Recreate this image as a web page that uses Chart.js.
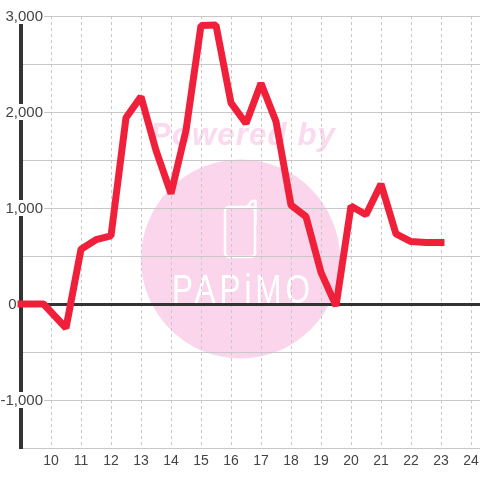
<!DOCTYPE html>
<html>
<head>
<meta charset="utf-8">
<style>
    html, body { margin: 0; padding: 0; background: #fff; }
    #chartBox { width: 480px; height: 480px; }
</style>
<script src="https://cdn.jsdelivr.net/npm/chart.js@4"></script>
</head>
<body>
<div id="chartBox"><canvas id="chartCanvas" width="480" height="480"></canvas></div>
<script>
// Hour of day and value
const hours = [9, 9.75, 10.5, 11, 11.5, 12, 12.5, 13, 13.5, 14, 14.5, 15, 15.5, 16, 16.5, 17, 17.5, 18, 18.5, 19, 19.5, 20, 20.5, 21, 21.5, 22, 22.5, 23];
const values = [0, 0, -250, 570, 670, 710, 1940, 2160, 1600, 1150, 1810, 2900, 2905, 2095, 1880, 2300, 1900, 1030, 910, 330, -20, 1020, 930, 1250, 730, 650, 640, 640];

// Tick positions
const hourTicks = [10, 11, 12, 13, 14, 15, 16, 17, 18, 19, 20, 21, 22, 23, 24];
const valueTicks = [-1500, -1000, -500, 0, 500, 1000, 1500, 2000, 2500, 3000];
const labelledTicks = [-1000, 0, 1000, 2000, 3000];

const points = hours.map((h, i) => ({ x: h, y: values[i] }));
const labelFont = '15px "Liberation Sans"';

// Pink logo sits under the grid lines
const watermark = {
    id: 'watermark',
    beforeDraw(c) {
        const ctx = c.ctx;
        ctx.save();
        ctx.fillStyle = '#fbd5ec';
        ctx.beginPath();
        ctx.arc(240.5, 259, 99.5, 0, Math.PI * 2);
        ctx.fill();

        ctx.fillStyle = '#fbd9ee';
        ctx.font = 'italic bold 31px "Liberation Sans"';
        ctx.textBaseline = 'alphabetic';
        ctx.letterSpacing = '1.2px';
        ctx.fillText('Powered by', 150, 145);

        // phone outline
        ctx.strokeStyle = '#ffffff';
        ctx.lineWidth = 2.5;
        ctx.beginPath();
        ctx.roundRect(225, 207, 30, 50, 4);
        ctx.moveTo(247, 207);
        ctx.lineTo(252, 201);
        ctx.lineTo(255.5, 201);
        ctx.lineTo(255.5, 225);
        ctx.stroke();

        // logo name, squeezed to the narrow look of the original lettering
        ctx.fillStyle = '#ffffff';
        ctx.font = '41px "Liberation Sans"';
        ctx.letterSpacing = '5px';
        ctx.translate(172, 303);
        ctx.scale(0.77, 1);
        ctx.fillText('PAPiMO', 0, 0);
        ctx.restore();
    }
};

// Value labels with a white plate, the plate covers the axis and grid
const valueLabels = {
    id: 'valueLabels',
    beforeDatasetsDraw(c) {
        const ctx = c.ctx;
        const scale = c.scales.y;
        ctx.save();
        ctx.font = labelFont;
        ctx.textBaseline = 'middle';
        labelledTicks.forEach(v => {
            const text = v.toLocaleString('en-US');
            const w = ctx.measureText(text).width;
            const y = scale.getPixelForValue(v);
            const right = v === 0 ? 16.5 : 43;
            ctx.fillStyle = '#ffffff';
            ctx.fillRect(right - w - 1, y - 8, w + 2, 16);
            ctx.fillStyle = '#444444';
            ctx.textAlign = 'right';
            ctx.fillText(text, right, y + 1);
        });
        ctx.restore();
    }
};

new Chart(document.getElementById('chartCanvas'), {
    type: 'line',
    data: {
        datasets: [{
            data: points,
            borderColor: '#f1203a',
            borderWidth: 7,
            borderCapStyle: 'square',
            borderJoinStyle: 'bevel',
            pointRadius: 0,
            tension: 0,
            clip: false
        }]
    },
    options: {
        responsive: false,
        animation: false,
        layout: { padding: { top: 16 } },
        plugins: { legend: { display: false }, tooltip: { enabled: false } },
        scales: {
            x: {
                type: 'linear',
                min: 9,
                max: 24.3,
                afterBuildTicks: s => { s.ticks = hourTicks.map(v => ({ value: v })); },
                afterFit: s => { s.height = 32; s.paddingLeft = 0; s.paddingRight = 0; },
                ticks: {
                    autoSkip: false,
                    maxRotation: 0,
                    padding: 5,
                    color: '#444444',
                    font: { family: 'Liberation Sans', size: 14 },
                    callback: v => String(v)
                },
                grid: { color: '#c8c8c8', lineWidth: 1, drawTicks: false },
                border: { color: '#c8c8c8', width: 0, dash: [3, 3] }
            },
            y: {
                min: -1500,
                max: 3000,
                afterBuildTicks: s => { s.ticks = valueTicks.map(v => ({ value: v })); },
                afterFit: s => { s.width = 21; s.paddingTop = 0; s.paddingBottom = 0; },
                ticks: { display: false },
                grid: {
                    drawTicks: false,
                    color: ctx => ctx.tick.value === 0 ? '#333333' : '#c8c8c8',
                    lineWidth: ctx => ctx.tick.value === 0 ? 3 : 1
                },
                border: { color: '#333333', width: 4 }
            }
        }
    },
    plugins: [watermark, valueLabels]
});
</script>
</body>
</html>
